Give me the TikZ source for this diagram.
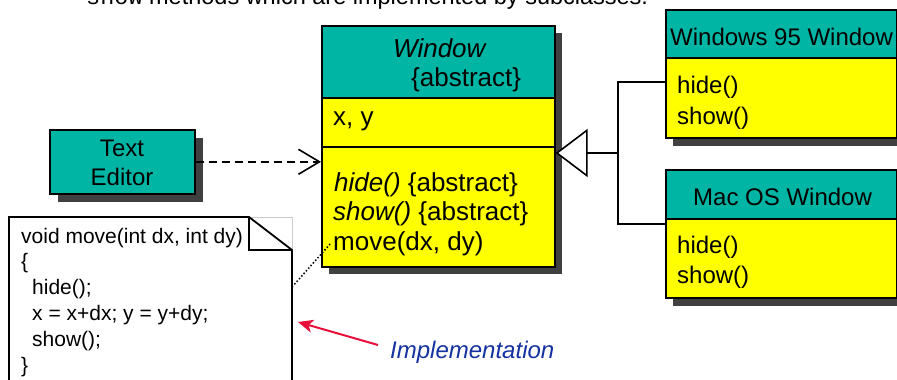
\documentclass[tikz,border=0pt]{standalone}
\usepackage{fontspec}
\setmainfont{Liberation Sans}
\setmonofont{Liberation Mono}
\usetikzlibrary{arrows.meta}
\definecolor{clsteal}{RGB}{0,181,164}
\definecolor{clsyellow}{RGB}{255,255,0}
\definecolor{shade}{RGB}{64,64,64}
\definecolor{implred}{RGB}{232,16,58}
\definecolor{implblue}{RGB}{20,50,160}
\tikzset{
  sect/.style={draw=black, line width=1.6pt, rectangle, inner sep=0pt, anchor=north west},
  head/.style={sect, fill=clsteal},
  body/.style={sect, fill=clsyellow},
  shadowbox/.style={fill=shade},
  lbl/.style={anchor=base west, inner sep=0pt},
  big/.style={font=\fontsize{26}{30}\selectfont},
  mid/.style={font=\fontsize{24}{28}\selectfont},
  code/.style={font=\fontsize{21}{25}\selectfont},
  link/.style={line width=1.6pt, draw=black}
}
\begin{document}
\begin{tikzpicture}[x=1pt, y=-1pt]
\useasboundingbox (0,0) rectangle (897,380);
\clip (0,0) rectangle (897,380);

% caption line running off the top edge
\node[lbl, font=\fontsize{23.5}{28}\selectfont] (caption) at (86,5)
  {{\ttfamily show} methods which are implemented by subclasses.};

% ---- abstract class Window ----
\fill[shadowbox] (329,33) rectangle (562,274);
\node[head, minimum width=233pt, minimum height=72pt] (winhead) at (321,25) {};
\node[body, minimum width=233pt, minimum height=49pt] (winattr) at (321,97) {};
\node[body, minimum width=233pt, minimum height=120pt] (winmeth) at (321,146) {};
\node[lbl, big, font=\fontsize{26}{30}\selectfont\itshape] (wname) at (393,57) {Window};
\node[lbl, big] (wabs) at (411,86) {\{abstract\}};
\node[lbl, big] (wxy) at (333,125) {x, y};
\node[lbl, big] (whide) at (334,191) {\textit{hide()} \{abstract\}};
\node[lbl, big] (wshow) at (333,220) {\textit{show()} \{abstract\}};
\node[lbl, big] (wmove) at (333,250) {move(dx, dy)};

% ---- Text Editor ----
\fill[shadowbox] (58,138) rectangle (203,202);
\node[head, minimum width=145pt, minimum height=64pt] (editor) at (49,129) {};
\node[anchor=base, inner sep=0pt, mid] (edt1) at (122,156) {Text};
\node[anchor=base, inner sep=0pt, mid] (edt2) at (122,185) {Editor};

% ---- Windows 95 Window ----
\fill[shadowbox] (673,17) rectangle (905,146);
\node[head, minimum width=231pt, minimum height=48pt] (w95head) at (665,9) {};
\node[body, minimum width=231pt, minimum height=80pt] (w95body) at (665,57) {};
\node[lbl, mid] (w95name) at (670,45) {Windows 95 Window};
\node[lbl, mid] (w95hide) at (677,93) {hide()};
\node[lbl, mid] (w95show) at (677,124) {show()};

% ---- Mac OS Window ----
\fill[shadowbox] (673,177) rectangle (905,306);
\node[head, minimum width=231pt, minimum height=49pt] (machead) at (665,169) {};
\node[body, minimum width=231pt, minimum height=79pt] (macbody) at (665,218) {};
\node[lbl, mid] (macname) at (693,205) {Mac OS Window};
\node[lbl, mid] (machide) at (677,253) {hide()};
\node[lbl, mid] (macshow) at (677,283) {show()};

% ---- generalisation ----
\coordinate (genj) at (618,153);
\coordinate (j95) at (618,82);
\coordinate (jmac) at (618,224);
\draw[link] (j95 -| w95body.west) -- (j95) -- (jmac) -- (jmac -| macbody.west);
\draw[link, -{Triangle[open, length=32pt, width=48pt, fill=white]}] (genj) -- (genj -| winmeth.east);

% ---- dependency ----
\draw[link, dash pattern=on 8pt off 5pt,
      -{Straight Barb[length=21pt, width=25pt]}]
  (editor.east) -- (editor.east -| winmeth.west);

% ---- note with folded corner ----
\draw[gray!40, line width=0.6pt] (249,217) -- (292,217) -- (292,250);
\draw[line width=1.8pt, fill=white, line join=miter]
  (9,217) -- (249,217) -- (292,250) -- (292,392) -- (9,392) -- cycle;
\draw[line width=1.8pt] (249,217) -- (249,250) -- (292,250);
\node[lbl, code] (n1) at (21,243) {void move(int dx, int dy)};
\node[lbl, code] (n2) at (21,268) {\{};
\node[lbl, code] (n3) at (32,294) {hide();};
\node[lbl, code] (n4) at (32,320) {x = x+dx; y = y+dy;};
\node[lbl, code] (n5) at (32,346) {show();};
\node[lbl, code] (n6) at (21,372) {\}};

% note attached to move()
\coordinate (noteside) at (292,287);
\coordinate (moveend) at (331,243);
\draw[line width=1.5pt, dash pattern=on 1.5pt off 2pt] (noteside) -- (moveend);

% ---- implementation callout ----
\node[lbl, mid, font=\fontsize{24}{28}\selectfont\itshape, text=implblue] (impl) at (390,358) {Implementation};
\coordinate (impltail) at (378,345);
\coordinate (impltip) at (298,322);
\draw[implred, line width=2pt, -{Stealth[length=15pt, width=13pt, inset=4pt]}] (impltail) -- (impltip);
\end{tikzpicture}
\end{document}
